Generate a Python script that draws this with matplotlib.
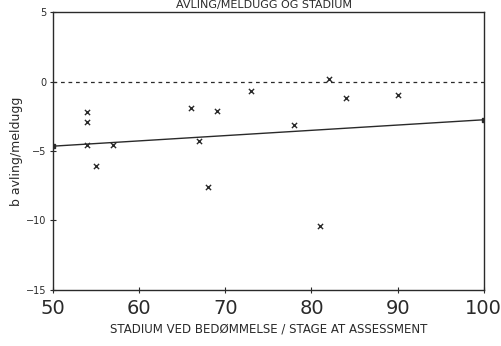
import matplotlib
matplotlib.use("Agg")
import matplotlib.pyplot as plt
import numpy as np

# stage at assessment vs. regression coefficient b (yield/mildew)
stadium = [54, 54, 54, 55, 57, 66, 67, 68, 69, 73, 78, 81, 82, 84, 90]
b_verdi = [-2.2, -2.9, -4.6, -6.1, -4.6, -1.9, -4.25, -7.6, -2.1, -0.65,
           -3.1, -10.4, 0.15, -1.15, -0.95]

# fitted line, endpoints
linje_x = [50, 100]
linje_y = [-4.65, -2.75]

ink = "#2a2a2a"
plt.rcParams['font.family'] = ['DejaVu Sans']

fig = plt.figure(figsize=(5.02, 3.46), dpi=100)
ax = fig.add_axes([0.1056, 0.162, 0.858, 0.803])

ax.axhline(0, color=ink, lw=0.9, ls=(0, (3, 3)))
ax.plot(linje_x, linje_y, color=ink, lw=1.0, marker="s", ms=3.5)
ax.scatter(stadium, b_verdi, marker="x", s=14, color=ink, linewidths=1.0)

ax.set_xlim(50, 100)
ax.set_ylim(-15, 5)
ax.set_xticks([50, 60, 70, 80, 90, 100])
ax.set_yticks([-15, -10, -5, 0, 5])
ax.set_yticklabels(["\u221215", "\u221210", "\u22125", "0", "5"])
ax.tick_params(axis="x", labelsize=14, direction="inout", length=5,
               colors=ink, pad=4)
ax.tick_params(axis="y", labelsize=7, direction="inout", length=5,
               colors=ink, pad=2)
for s in ax.spines.values():
    s.set_color(ink)
    s.set_linewidth(1.0)

ax.set_xlabel("STADIUM VED BEDØMMELSE / STAGE AT ASSESSMENT",
              fontsize=8.5, color=ink, labelpad=3)
ax.set_ylabel("b avling/meldugg", fontsize=9, color=ink, labelpad=2)
fig.text(0.525, 0.999, "AVLING/MELDUGG OG STADIUM", fontsize=8, color=ink,
         ha="center", va="top")

fig.savefig("out.png", dpi=100, facecolor="white")
